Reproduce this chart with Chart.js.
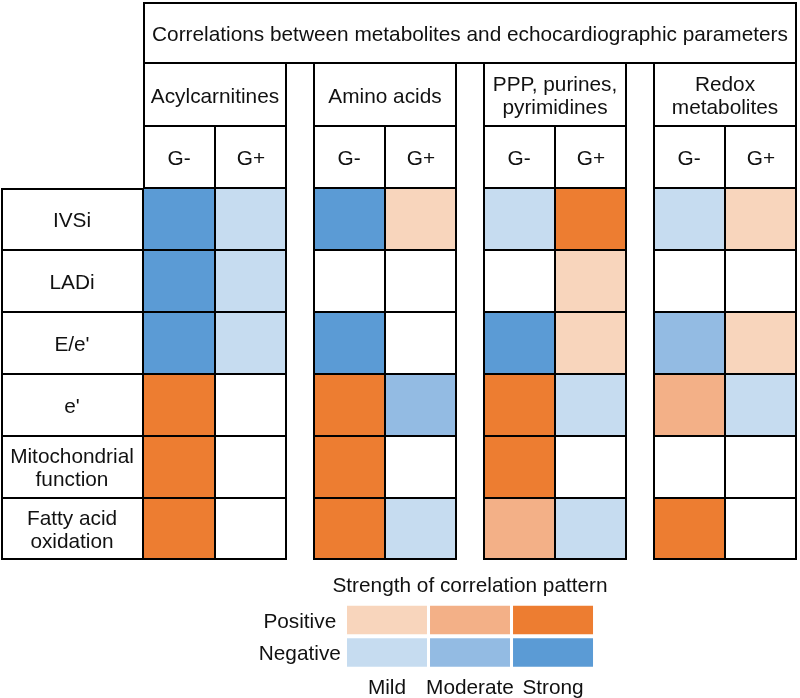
<!DOCTYPE html>
<html>
<head>
<meta charset="utf-8">
<script src="https://cdn.jsdelivr.net/npm/chart.js@4/dist/chart.umd.min.js"></script>
<style>
  body { margin: 0; background: #fff; }
  .chart-box { width: 800px; height: 698px; }
</style>
</head>
<body>
<div class="chart-box"><canvas id="heatmap"></canvas></div>
<script>
// texts
const title = 'Correlations between metabolites and echocardiographic parameters'
const groups = ['Acylcarnitines', 'Amino acids', 'PPP, purines,\npyrimidines', 'Redox\nmetabolites']
const subgroups = ['G-', 'G+']
const parameters = ['IVSi', 'LADi', "E/e'", "e'", 'Mitochondrial\nfunction', 'Fatty acid\noxidation']

// correlation pattern per parameter, columns = G-, G+ of each group in order
// sign: + positive, - negative ; 1 mild, 2 moderate, 3 strong, 0 none
const ivsi = [-3, -1, -3, 1, -1, 3, -1, 1]
const ladi = [-3, -1, 0, 0, 0, 1, 0, 0]
const e_over_e = [-3, -1, -3, 0, -3, 1, -2, 1]
const e_prime = [3, 0, 3, -2, 3, -1, 2, -1]
const mito_function = [3, 0, 3, 0, 3, 0, 0, 0]
const fa_oxidation = [3, 0, 3, -1, 2, -1, 3, 0]
const rows = [ivsi, ladi, e_over_e, e_prime, mito_function, fa_oxidation]

// legend
const legend_title = 'Strength of correlation pattern'
const directions = ['Positive', 'Negative']
const strengths = ['Mild', 'Moderate', 'Strong']


const orange = ['#f8d5bc', '#f3b087', '#ed7d31']
const blue = ['#c6dcf0', '#93bbe3', '#5b9bd5']
function cell_color(v) {
  if (v > 0) return orange[v - 1]
  if (v < 0) return blue[-v - 1]
  return '#ffffff'
}

// grid units: 1 = one column wide (72px) / one row high (62px)
const col_px = 72, row_px = 62
const label_w = 142 / col_px
const group_pitch = 170 / col_px
const head_rows = 3
const n_cols = groups.length * subgroups.length
const col_x = (i) => label_w + Math.floor(i / 2) * group_pitch + (i % 2)
const right_edge = col_x(n_cols - 1) + 1
const x_min = -1 / col_px, y_min = -2 / row_px

// white boxes: title, groups, G-/G+, row labels
let box_cells = []
box_cells.push({x: [label_w, right_edge], y: 0.5, kind: 'title'})
groups.forEach((g, i) => box_cells.push({x: [col_x(i * 2), col_x(i * 2) + 2], y: 1.5, kind: 'group'}))
for (let c = 0; c < n_cols; c++) {
  box_cells.push({x: [col_x(c), col_x(c) + 1], y: 2.5, kind: 'sub', col: c})
}
parameters.forEach((p, r) => box_cells.push({x: [0, label_w], y: head_rows + r + 0.5, kind: 'label', row: r}))

// coloured cells
let value_cells = []
rows.forEach((vals, r) => {
  vals.forEach((v, c) => {
    value_cells.push({x: [col_x(c), col_x(c) + 1], y: head_rows + r + 0.5, v: v, row: r, col: c, kind: 'cell'})
  })
})

// legend swatches
const legend_x0 = 5.361, legend_pitch = 1.153, legend_w = 1.111
const legend_rows = [9.968, 10.492]
let legend_cells = []
directions.forEach((d, r) => {
  strengths.forEach((s, i) => {
    let cx = legend_x0 + i * legend_pitch
    legend_cells.push({x: [cx - legend_w / 2, cx + legend_w / 2], y: legend_rows[r], v: (r == 0 ? 1 : -1) * (i + 1)})
  })
})

// 2px on the outside of each block, 1px per side where cells touch
function borders(p) {
  if (!p) return 1
  let last_row = p.row == parameters.length - 1
  if (p.kind == 'title') return {top: 2, left: 2, right: 2, bottom: 2}
  if (p.kind == 'group') return {top: 0, left: 2, right: 2, bottom: 1}
  if (p.kind == 'sub') return {top: 1, bottom: 1, left: p.col % 2 ? 1 : 2, right: p.col % 2 ? 2 : 1}
  if (p.kind == 'label') return {left: 2, right: 1, top: p.row == 0 ? 2 : 1, bottom: last_row ? 2 : 1}
  return {top: 1, bottom: last_row ? 2 : 1, left: p.col % 2 ? 1 : (p.col == 0 ? 1 : 2), right: p.col % 2 ? 2 : 1}
}

const text_plugin = {
  id: 'texts',
  afterDatasetsDraw(chart) {
    const {ctx, scales: {x, y}} = chart
    ctx.save()
    ctx.fillStyle = '#111111'
    ctx.font = '20.8px "Liberation Sans", Arial, sans-serif'
    ctx.textAlign = 'center'
    ctx.textBaseline = 'middle'
    const put = (txt, ux, uy) => {
      let lines = txt.split('\n')
      let px = x.getPixelForValue(ux)
      let py = y.getPixelForValue(uy) + 2
      lines.forEach((l, i) => ctx.fillText(l, px, py + (i - (lines.length - 1) / 2) * 23.5))
    }
    put(title, (label_w + right_edge) / 2, 0.5)
    groups.forEach((g, i) => put(g, col_x(i * 2) + 1, 1.5))
    for (let c = 0; c < n_cols; c++) put(subgroups[c % 2], col_x(c) + 0.5, 2.5)
    parameters.forEach((p, r) => put(p, label_w / 2, head_rows + r + 0.5))
    put(legend_title, legend_x0 + legend_pitch, 9.395)
    directions.forEach((d, r) => put(d, 4.15, legend_rows[r]))
    strengths.forEach((s, i) => put(s, legend_x0 + i * legend_pitch, 11.03))
    ctx.restore()
  }
}

let chart = new Chart(document.getElementById('heatmap'), {
  type: 'bar',
  data: {
    datasets: [
      {
        data: box_cells,
        backgroundColor: '#ffffff',
        borderColor: '#000000',
        borderWidth: (c) => borders(c.raw)
      },
      {
        data: value_cells,
        backgroundColor: (c) => c.raw ? cell_color(c.raw.v) : '#ffffff',
        borderColor: '#000000',
        borderWidth: (c) => borders(c.raw)
      },
      {
        data: legend_cells,
        yAxisID: 'y2',
        backgroundColor: (c) => c.raw ? cell_color(c.raw.v) : '#ffffff',
        borderWidth: 0,
        barPercentage: 0.877
      }
    ]
  },
  options: {
    indexAxis: 'y',
    responsive: true,
    maintainAspectRatio: false,
    animation: false,
    events: [],
    layout: {padding: 0},
    datasets: {
      bar: {grouped: false, categoryPercentage: 1, barPercentage: 1, borderSkipped: false, inflateAmount: 0}
    },
    plugins: {legend: {display: false}, tooltip: {enabled: false}},
    scales: {
      x: {type: 'linear', min: x_min, max: x_min + 800 / col_px, display: false},
      // offset off, otherwise the bar chart pads the linear index axis
      y: {type: 'linear', axis: 'y', min: y_min, max: y_min + 698 / row_px, reverse: true, offset: false, display: false, ticks: {count: 2}},
      y2: {type: 'linear', axis: 'y', min: y_min, max: y_min + 698 / row_px, reverse: true, offset: false, display: false, ticks: {count: 2}}
    }
  },
  plugins: [text_plugin]
})
</script>
</body>
</html>
